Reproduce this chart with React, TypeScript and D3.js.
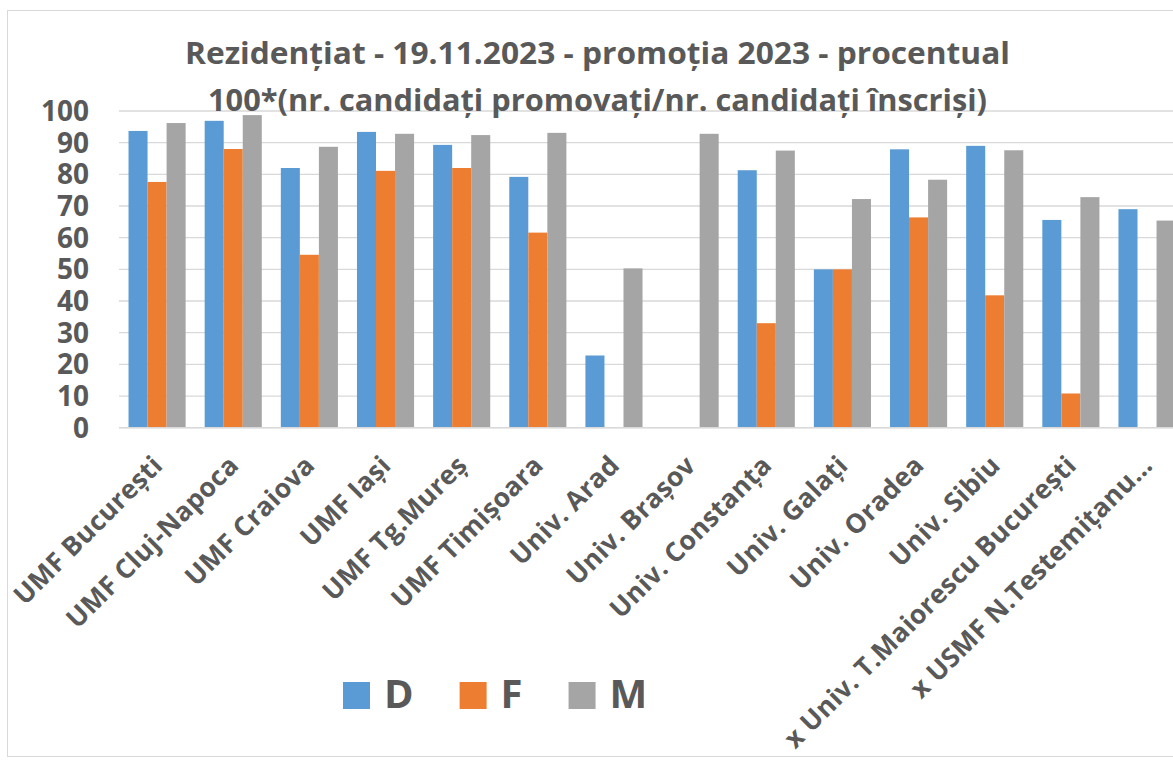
import { useEffect, useRef } from "react";
import * as d3 from "d3";

const categories = [
  "UMF București",
  "UMF Cluj-Napoca",
  "UMF Craiova",
  "UMF Iași",
  "UMF Tg.Mureș",
  "UMF Timișoara",
  "Univ. Arad",
  "Univ. Brașov",
  "Univ. Constanța",
  "Univ. Galați",
  "Univ. Oradea",
  "Univ. Sibiu",
  "x Univ. T.Maiorescu București",
  "x USMF N.Testemițanu…",
];

const seriesNames = ["D", "F", "M"];
const colors = ["#5b9bd5", "#ed7d31", "#a5a5a5"];

// null = no bar drawn
const valuesD = [93.7, 96.9, 82.0, 93.4, 89.3, 79.2, 22.8, null, 81.3, 50.0, 87.9, 89.0, 65.6, 69.0];
const valuesF = [77.6, 88.0, 54.6, 81.1, 82.0, 61.6, null, null, 33.0, 50.0, 66.4, 41.8, 10.8, null];
const valuesM = [96.2, 98.7, 88.7, 92.8, 92.4, 93.1, 50.3, 92.8, 87.5, 72.2, 78.3, 87.6, 72.8, 65.4];

const yTicks = [0, 10, 20, 30, 40, 50, 60, 70, 80, 90, 100];

const titleLines = [
  "Rezidențiat - 19.11.2023 - promoția 2023 - procentual",
  "100*(nr. candidați promovați/nr. candidați înscriși)",
];

const App = () => {
  const svgRef = useRef<SVGSVGElement>(null);

  useEffect(() => {
    const W = 1173;
    const H = 762;
    const font = "'Open Sans', 'Noto Sans', sans-serif";
    const textColor = "#595959";

    const svg = d3.select(svgRef.current);
    svg.selectAll("*").remove();
    svg.attr("width", W).attr("height", H);

    // chart frame (right side runs off the picture)
    svg.append("rect")
      .attr("x", 7.5)
      .attr("y", 10.5)
      .attr("width", 1300)
      .attr("height", 746)
      .attr("fill", "#fff")
      .attr("stroke", "#d9d9d9")
      .attr("stroke-width", 1);

    const plotLeft = 119;
    const step = 76.15;
    const x0 = d3.scaleBand<string>()
      .domain(categories)
      .range([plotLeft, plotLeft + step * categories.length])
      .paddingInner(0.25)
      .paddingOuter(0.125);

    const x1 = d3.scaleBand<string>()
      .domain(seriesNames)
      .range([0, x0.bandwidth()]);

    const y = d3.scaleLinear().domain([0, 100]).range([427.7, 111]);

    // gridlines
    svg.append("g")
      .selectAll("line")
      .data(yTicks)
      .join("line")
      .attr("x1", plotLeft)
      .attr("x2", W + 20)
      .attr("y1", d => y(d))
      .attr("y2", d => y(d))
      .attr("stroke", "#d9d9d9")
      .attr("stroke-width", 1.3);

    // y labels
    svg.append("g")
      .selectAll("text")
      .data(yTicks)
      .join("text")
      .attr("x", 89)
      .attr("y", d => y(d))
      .attr("dy", "0.36em")
      .attr("text-anchor", "end")
      .style("font-family", font)
      .style("font-weight", 700)
      .style("font-size", "28px")
      .style("fill", textColor)
      .text(d => d);

    // bars
    const series = [valuesD, valuesF, valuesM];
    series.forEach((vals, si) => {
      svg.append("g")
        .selectAll("rect")
        .data(categories.map((c, i) => ({ c, v: vals[i] })).filter(d => d.v !== null))
        .join("rect")
        .attr("x", d => (x0(d.c) as number) + (x1(seriesNames[si]) as number))
        .attr("width", x1.bandwidth())
        .attr("y", d => y(d.v as number))
        .attr("height", d => y(0) - y(d.v as number))
        .attr("fill", colors[si]);
    });

    // x axis line
    svg.append("line")
      .attr("x1", plotLeft)
      .attr("x2", W + 20)
      .attr("y1", y(0))
      .attr("y2", y(0))
      .attr("stroke", "#d9d9d9")
      .attr("stroke-width", 1.5);

    // category labels
    svg.append("g")
      .selectAll("text")
      .data(categories)
      .join("text")
      .attr("transform", d => {
        const cx = (x0(d) as number) + x0.bandwidth() / 2;
        return `translate(${cx + 7},${467}) rotate(-45)`;
      })
      .attr("text-anchor", "end")
      .style("font-family", font)
      .style("font-weight", 700)
      .style("font-size", "26.5px")
      .style("letter-spacing", "0.3px")
      .style("fill", textColor)
      .text(d => d);

    // title
    const titleWidths = [825, 779];
    svg.append("g")
      .selectAll("text")
      .data(titleLines)
      .join("text")
      .attr("x", 597.5)
      .attr("y", (d, i) => (i === 0 ? 64 : 111))
      .attr("text-anchor", "middle")
      .attr("textLength", (d, i) => titleWidths[i])
      .attr("lengthAdjust", "spacingAndGlyphs")
      .style("font-family", font)
      .style("font-weight", 700)
      .style("font-size", "30px")
      .style("fill", textColor)
      .text(d => d);

    // legend
    let lx = 343;
    const legend = svg.append("g");
    seriesNames.forEach((name, i) => {
      legend.append("rect")
        .attr("x", lx)
        .attr("y", 682)
        .attr("width", 27)
        .attr("height", 27)
        .attr("fill", colors[i]);
      const t = legend.append("text")
        .attr("x", lx + 41)
        .attr("y", 708)
        .style("font-family", font)
        .style("font-weight", 700)
        .style("font-size", "40px")
        .style("fill", textColor)
        .text(name);
      const tw = (t.node() as SVGTextElement).getComputedTextLength();
      lx += 41 + tw + 46;
    });
  }, []);

  return (
    <svg
      ref={svgRef}
      width={1173}
      height={762}
      style={{ position: "absolute", left: 0, top: 0 }}
    ></svg>
  );
};

export default App;
